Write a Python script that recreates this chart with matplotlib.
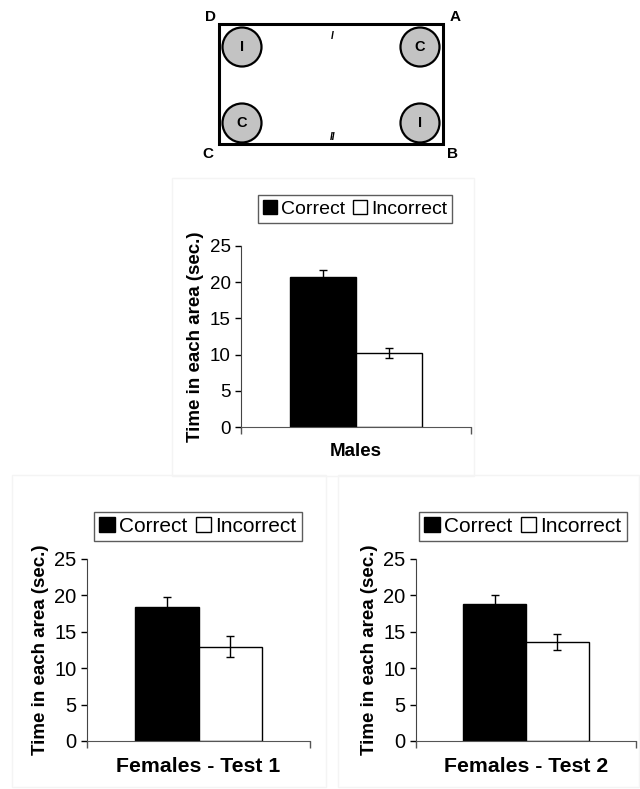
import matplotlib.pyplot as plt
from matplotlib.patches import Rectangle, Circle, Patch

plt.rcParams['font.family'] = ['Liberation Sans', 'DejaVu Sans']

# mean time (s) and SEM for each group
groups = ['Males', 'Females - Test 1', 'Females - Test 2']
correct = [20.7, 18.45, 18.8]
correct_err = [1.0, 1.35, 1.2]
incorrect = [10.25, 12.95, 13.55]
incorrect_err = [0.7, 1.45, 1.1]
series = ['Correct', 'Incorrect']
yticks = [0, 5, 10, 15, 20, 25]

# arena schematic: object letters at the four corners
arena_objects = [('I', 242, 47), ('C', 420, 47), ('C', 242, 123), ('I', 420, 123)]
arena_corners = [('D', 210, 17), ('A', 455, 17), ('C', 208, 154), ('B', 453, 154)]

W, H = 640, 789
fig = plt.figure(figsize=(W / 100, H / 100), dpi=100)

# background layer in pixel units for the schematic and panel frames
bg = fig.add_axes([0, 0, 1, 1], zorder=-1)
bg.set_xlim(0, W)
bg.set_ylim(H, 0)
bg.axis('off')
for (x0, y0, x1, y1) in [(172, 178, 474, 476), (12, 475, 326, 787), (338, 475, 639, 787)]:
    bg.add_patch(Rectangle((x0, y0), x1 - x0, y1 - y0, fill=False, ec='#f4f4f4', lw=1))
bg.add_patch(Rectangle((219, 24), 224, 120, fill=False, ec='black', lw=2.2))
for letter, cx, cy in arena_objects:
    bg.add_patch(Circle((cx, cy), 19.5, fc='#c3c3c3', ec='black', lw=1.6))
    bg.text(cx, cy, letter, ha='center', va='center', fontsize=10.5, fontweight='bold')
for letter, cx, cy in arena_corners:
    bg.text(cx, cy, letter, ha='center', va='center', fontsize=11, fontweight='bold')
bg.text(332, 36, 'I', ha='center', va='center', fontsize=7, fontweight='bold', style='italic')
bg.text(333, 137, 'II', ha='center', va='center', fontsize=7, fontweight='bold', style='italic')

# (axes rect in pixels, legend centre, tick / legend / ylabel / xlabel font sizes)
panels = [
    ((241, 246, 471, 427), (355, 209), 13.5, 14, 13.5, 13.5),
    ((87, 559, 310, 741), (198, 526.5), 14.5, 15, 13.5, 15.3),
    ((416, 559, 636, 741), (523, 526.5), 14.5, 15, 13.5, 15.3),
]

width = 0.285
for i, (rect, leg_c, tick_fs, leg_fs, ylab_fs, xlab_fs) in enumerate(panels):
    x0, y0, x1, y1 = rect
    ax = fig.add_axes([x0 / W, 1 - y1 / H, (x1 - x0) / W, (y1 - y0) / H])
    ax.bar(-width / 2, correct[i], width, color='black', edgecolor='black', lw=1)
    ax.bar(width / 2, incorrect[i], width, color='white', edgecolor='black', lw=1)
    ax.errorbar([-width / 2, width / 2], [correct[i], incorrect[i]],
                yerr=[correct_err[i], incorrect_err[i]], fmt='none',
                ecolor='black', elinewidth=1, capsize=3, capthick=1)
    ax.set_xlim(-0.5, 0.5)
    ax.set_ylim(0, 25)
    ax.set_yticks(yticks)
    ax.set_xticks([-0.5, 0.5])
    ax.set_xticklabels([])
    ax.tick_params(axis='y', labelsize=tick_fs, length=4, width=1)
    ax.tick_params(axis='x', length=5, width=1, color='#555555')
    for s in ['top', 'right']:
        ax.spines[s].set_visible(False)
    ax.spines['left'].set_color('#444444')
    ax.spines['bottom'].set_color('#555555')
    ax.set_ylabel('Time in each area (sec.)', fontsize=ylab_fs, fontweight='bold', labelpad=4)
    ax.set_xlabel(groups[i], fontsize=xlab_fs, fontweight='bold', labelpad=3)
    handles = [Patch(fc='black', ec='black'), Patch(fc='white', ec='black')]
    leg = ax.legend(handles, series, loc='center', ncol=2, fontsize=leg_fs,
                    bbox_to_anchor=(leg_c[0] / W, 1 - leg_c[1] / H),
                    bbox_transform=fig.transFigure, frameon=True, fancybox=False,
                    handlelength=0.75, handleheight=0.75, handletextpad=0.2,
                    columnspacing=0.4, borderpad=0.25, borderaxespad=0)
    leg.get_frame().set_edgecolor('#333333')
    leg.get_frame().set_linewidth(1)

fig.savefig('out.png', dpi=100)
